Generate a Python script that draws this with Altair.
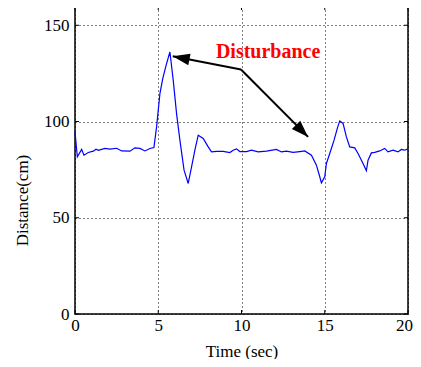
import altair as alt
import pandas as pd

# Signal samples
time_s = [0.0, 0.14, 0.4, 0.54, 0.8, 1.1, 1.26, 1.4, 1.8, 2.1, 2.5, 2.8, 3.3, 3.6, 3.9, 4.2, 4.5, 4.74,
          4.9, 5.1, 5.27, 5.47, 5.7, 5.9, 6.1, 6.3, 6.55, 6.8, 7.0, 7.2, 7.4, 7.7, 8.0, 8.2, 8.5, 8.9,
          9.3, 9.5, 9.7, 9.9, 10.3, 10.6, 11.0, 11.5, 12.1, 12.4, 12.7, 13.1, 13.5, 13.8, 14.2, 14.5,
          14.7, 14.8, 15.0, 15.1, 15.3, 15.56, 15.78, 15.9, 16.1, 16.3, 16.5, 16.8, 17.0, 17.3, 17.5,
          17.6, 17.8, 18.0, 18.3, 18.6, 18.8, 19.1, 19.4, 19.6, 19.8, 20.0]
distance_cm = [94.6, 81.6, 85.5, 82.5, 83.9, 84.6, 85.6, 85.0, 86.0, 85.7, 86.1, 84.7, 84.6, 86.3, 86.0,
               84.7, 86.0, 86.5, 97.2, 114.5, 122.3, 129.2, 136.1, 121.4, 104.1, 90.3, 74.7, 67.8, 76.4,
               85.1, 92.9, 91.2, 86.8, 84.2, 84.5, 84.5, 83.9, 85.1, 85.8, 84.4, 84.4, 85.1, 84.2, 84.6,
               85.5, 84.2, 84.6, 84.0, 84.4, 84.7, 82.5, 77.3, 71.3, 68.1, 71.3, 78.2, 83.4, 90.3, 97.2,
               100.3, 99.0, 92.0, 86.8, 86.3, 83.4, 78.2, 74.4, 79.9, 83.7, 84.0, 84.7, 86.0, 84.2, 85.1,
               84.2, 85.5, 85.1, 85.8]

x_ticks = [0, 5, 10, 15, 20]
y_ticks = [0, 50, 100, 150]

# Annotation
label_text = ["Disturbance"]
label_t = [11.6]
label_d = [136]
knee_t = [9.97, 9.97]
knee_d = [127, 127]
tip_t = [5.87, 14.0]
tip_d = [133.9, 92.0]
head_angle = [281, 135]

FONT = "Liberation Serif, Times New Roman, Times, DejaVu Serif, serif"
W, H = 333, 308

df = pd.DataFrame({"t": time_s, "d": distance_cm})
arrows = pd.DataFrame({"t0": knee_t, "d0": knee_d, "t1": tip_t, "d1": tip_d, "ang": head_angle})
lab = pd.DataFrame({"t": label_t, "d": label_d, "txt": label_text})
xt = pd.DataFrame({"v": x_ticks})
yt = pd.DataFrame({"v": y_ticks})

xs = alt.Scale(domain=[0, 20], nice=False, zero=False)
ys = alt.Scale(domain=[0, 160], nice=False, zero=False)

xaxis = alt.Axis(values=x_ticks, grid=True, gridDash=[1, 3], gridColor="black", gridOpacity=1,
                 gridWidth=1, ticks=False, domain=False, labelFont=FONT, labelFontSize=17,
                 labelColor="black", labelPadding=3, labelFlush=False,
                 labelOffset={"condition": {"test": "datum.value == 20", "value": -4}, "value": 0},
                 title="Time (sec)", titleFont=FONT, titleFontSize=17, titleFontWeight="normal",
                 titleColor="black", titleBaseline="alphabetic", titleY=42)
yaxis = alt.Axis(values=y_ticks, grid=True, gridDash=[1, 3], gridColor="black", gridOpacity=1,
                 gridWidth=1, ticks=False, domain=False, labelFont=FONT, labelFontSize=17,
                 labelColor="black", labelPadding=6, labelFlush=False,
                 title="Distance(cm)", titleFont=FONT, titleFontSize=17, titleFontWeight="normal",
                 titleColor="black", titleAngle=-90, titleBaseline="middle", titleX=-53, titleY=194)

line = alt.Chart(df).mark_line(color="#0000FF", strokeWidth=1.2).encode(
    x=alt.X("t:Q", scale=xs, axis=xaxis),
    y=alt.Y("d:Q", scale=ys, axis=yaxis),
)

# inward tick marks on all four sides
xt_bot = alt.Chart(xt).mark_rule(color="black", strokeWidth=1).encode(
    x=alt.X("v:Q", scale=xs), y=alt.value(H), y2=alt.value(H - 4))
xt_top = alt.Chart(xt).mark_rule(color="black", strokeWidth=1).encode(
    x=alt.X("v:Q", scale=xs), y=alt.value(0), y2=alt.value(4))
yt_left = alt.Chart(yt).mark_rule(color="black", strokeWidth=1).encode(
    y=alt.Y("v:Q", scale=ys), x=alt.value(0), x2=alt.value(4))
yt_right = alt.Chart(yt).mark_rule(color="black", strokeWidth=1).encode(
    y=alt.Y("v:Q", scale=ys), x=alt.value(W), x2=alt.value(W - 4))

arrow_lines = alt.Chart(arrows).mark_rule(color="black", strokeWidth=2).encode(
    x=alt.X("t0:Q", scale=xs), y=alt.Y("d0:Q", scale=ys),
    x2="t1:Q", y2="d1:Q")
arrow_heads = alt.Chart(arrows).mark_point(
    shape="M0,0 L-0.7,2 L0.7,2 Z", filled=True, color="black", opacity=1, size=289, strokeWidth=0
).encode(
    x=alt.X("t1:Q", scale=xs), y=alt.Y("d1:Q", scale=ys),
    angle=alt.Angle("ang:Q", scale=None))

text = alt.Chart(lab).mark_text(font=FONT, fontSize=20, fontWeight="bold", color="#FF0000",
                                baseline="middle", align="center").encode(
    x=alt.X("t:Q", scale=xs), y=alt.Y("d:Q", scale=ys), text="txt:N")

chart = alt.layer(line, xt_bot, xt_top, yt_left, yt_right, arrow_lines, arrow_heads, text).properties(
    width=W, height=H,
    autosize=alt.AutoSizeParams(type="none"),
    padding={"left": 67, "top": -2, "right": 5, "bottom": 45},
    background="white",
).configure_view(stroke="black", strokeWidth=1.5)

chart.save("out.html", embed_options={"renderer": "svg", "actions": False})
